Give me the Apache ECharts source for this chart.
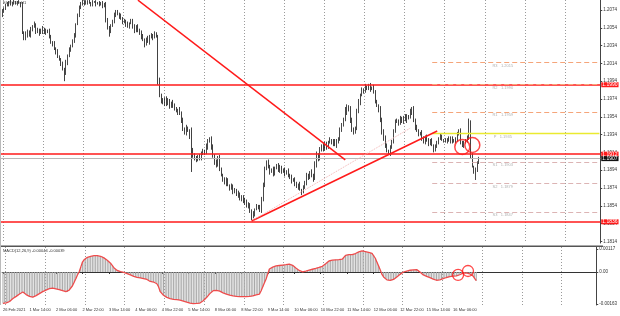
<!DOCTYPE html>
<html><head><meta charset="utf-8">
<script src="https://cdn.jsdelivr.net/npm/echarts@6/dist/echarts.min.js"></script>
<style>html,body{margin:0;padding:0;background:#fff}#c{width:620px;height:316px}</style>
</head><body><div id="c"></div><script>
// ---- data ----
const SLOTS = 359; // hourly slots shown on the x axis (incl. empty right shift)
const TICK_LABELS = ["26 Feb 2021","1 Mar 14:00","2 Mar 06:00","2 Mar 22:00","3 Mar 14:00","4 Mar 06:00","4 Mar 22:00","5 Mar 14:00","8 Mar 06:00","8 Mar 22:00","9 Mar 14:00","10 Mar 06:00","10 Mar 22:00","11 Mar 14:00","12 Mar 06:00","12 Mar 22:00","15 Mar 14:00","16 Mar 06:00"];
const PRICE_TICKS = [1.2074,1.2054,1.2034,1.2014,1.1994,1.1974,1.1954,1.1934,1.1914,1.1894,1.1874,1.1854,1.1834,1.1814];
// prices in pips above 1.1800
const FIRST_OPEN = 265;
const CLOSE = [
268,272,276,279,281,283,280,282,284,281,
283,282,280,248,242,247,250,246,252,255,
258,250,252,248,251,253,249,251,250,244,
238,236,230,227,222,218,214,208,203,215,
222,229,234,238,246,258,268,276,282,284,
281,283,285,282,280,283,284,281,283,280,
282,279,281,262,255,250,256,262,268,272,
270,267,264,260,262,258,256,259,262,255,
250,256,252,248,245,240,236,242,238,244,
246,243,247,245,195,178,172,170,175,168,
172,166,170,167,163,160,162,158,150,140,
136,142,138,133,118,110,108,105,110,107,
112,116,114,120,126,130,120,110,104,100,
108,96,88,84,80,83,77,74,76,70,
72,66,68,62,64,58,60,54,56,48,
42,45,50,54,52,48,60,78,95,103,
98,92,95,90,96,100,94,97,92,95,
90,93,88,86,82,84,79,76,78,72,
70,74,80,88,85,92,88,84,100,110,
106,118,122,117,124,120,126,128,124,127,
122,126,130,138,145,150,160,165,162,150,
140,136,142,160,170,178,184,182,188,186,
189,185,187,182,172,166,162,150,138,130,
122,116,113,120,125,138,148,150,147,152,
149,154,150,155,153,160,164,150,142,138,
134,136,130,126,132,127,124,128,122,118,
121,124,130,132,128,128,126,129,127,130,
126,128,127,135,137,126,122,125,128,130,
148,110,98,92,95,103,107];
// upper / lower shadow lengths in pips (one digit per candle)
const UP = ["2312213120","1213232132","3121231213","2132312213","2313212312","1201120101","1212312132","2132213122","3121322132","2132132312","3213221323","2312913212","3214312322","2312232132","2131223121","2312134232","3213212321","2132312213","1323213245","3213221312","2314235324","3213423231","2313212432","3212323213","2132131223","2132123121","2313212132","2132341213","4231212"].join("");
const DN = ["3212131221","2131224232","1323142322","2313213292","3122131213","2131221312","1322362132","2312132312","2132414213","2312523242","1323214232","2314023212","2132313243","2313241323","2132313232","4231212131","2313212321","3122313241","4213212313","2132132213","1323121423","3213231212","2312313243","3213212132","2313214231","2132313214","3212131213","2131232313","2312932"].join("");
const BIG_LOW = {114: 92};
// MACD in units of 0.00001
const MACD = [
-160,-158,-157,-155,-150,-143,-135,-130,-124,-118,
-112,-106,-102,-108,-115,-120,-124,-127,-128,-124,
-120,-115,-110,-105,-100,-96,-92,-88,-85,-83,
-82,-84,-86,-88,-90,-93,-95,-97,-100,-102,
-92,-82,-70,-52,-34,-15,0,25,50,62,
70,75,78,80,82,83,83,83,82,80,
78,72,66,60,52,45,34,22,12,8,
5,2,0,-2,-5,-8,-11,-15,-18,-22,
-25,-27,-29,-30,-32,-34,-35,-38,-42,-48,
-50,-51,-52,-60,-75,-100,-110,-118,-125,-129,
-132,-135,-137,-139,-140,-141,-142,-143,-145,-148,
-150,-153,-156,-158,-160,-161,-160,-160,-159,-158,
-152,-146,-140,-130,-120,-110,-100,-95,-92,-93,
-95,-97,-102,-106,-110,-113,-116,-118,-120,-122,
-123,-124,-124,-125,-125,-125,-125,-125,-125,-124,
-124,-122,-118,-116,-114,-112,-95,-75,-55,-35,
-10,15,20,25,30,31,32,33,34,35,
36,37,38,40,38,34,28,20,14,8,
0,1,3,5,7,10,12,14,15,18,
20,23,26,29,35,42,52,56,58,60,
61,62,62,63,64,65,75,85,88,88,
88,88,90,94,98,102,105,107,106,104,
102,100,97,95,85,70,50,30,10,-12,
-25,-33,-40,-42,-43,-42,-38,-32,-25,-18,
-12,-5,0,3,5,7,9,10,11,12,
12,8,0,-10,-15,-19,-22,-26,-29,-32,
-36,-39,-42,-41,-40,-38,-34,-31,-28,-26,
-24,-22,-21,-21,-20,-18,-14,-8,-6,-5,
-4,-6,-9,-12,-20,-32,-44];
const MACD_TICKS = [0.00117, 0, -0.00163];
const LEVELS = [1.1990, 1.1912, 1.1836];
const BID = 1.1907;
const PIVOT_NAMES = ["R3","R2","R1","P","S1","S2","S3"];
const PIVOT_VALUES = [1.2015, 1.1990, 1.1959, 1.1935, 1.1903, 1.1879, 1.1847];
const PIVOT_RANGE = [258, 358];
const TREND_DOWN = [[82, 1.2085], [206, 1.19055]];
const TREND_UP = [[150, 1.18369], [261, 1.1938]];
const TREND_FAINT = [[151, 1.1838], [245, 1.19414]];
const CIRCLES_PRICE = [[276, 1.19201], [282, 1.19223]];
const CIRCLES_MACD = [[275, -0.00015], [281, 0.00005]];
const TITLE = "EURUSD,H1";
const MACD_TITLE = "MACD(12,26,9) -0.00044 -0.00039";

// ---- build ----
const xData = Array.from({length: SLOTS}, (_, i) => String(i));
const candles = CLOSE.map((c, i) => {
  const o = i === 0 ? FIRST_OPEN : CLOSE[i - 1];
  const hi = Math.max(o, c) + Number(UP[i]);
  const lo = BIG_LOW[i] !== undefined ? BIG_LOW[i] : Math.min(o, c) - Number(DN[i]);
  return [o, c, lo, hi].map(p => +(1.18 + p / 10000).toFixed(5));
});
const macdVals = MACD.map(v => v / 100000);
const FONT = "Liberation Sans";
const gridSplit = (idx) => (idx - 2) % 24 === 0;
const tickShow = (idx) => idx % 16 === 0 && idx / 16 < TICK_LABELS.length;

const levelLines = LEVELS.map(v => ({
  yAxis: v,
  lineStyle: {color: '#ff1a1a', width: 1.5, type: 'solid'},
  label: {show: true, position: 'end', formatter: v.toFixed(4), color: '#fff', backgroundColor: '#ff1a1a',
    fontSize: 5, fontFamily: FONT, padding: [0, 1], distance: 1}
}));
levelLines.push({
  yAxis: BID,
  lineStyle: {color: '#b8b8b8', width: 1, type: 'solid'},
  label: {show: true, position: 'end', formatter: BID.toFixed(4), color: '#fff', backgroundColor: '#111',
    fontSize: 5, fontFamily: FONT, padding: [0, 1], distance: 1}
});
const pivotLines = PIVOT_VALUES.map((v, k) => {
  const upper = v > 1.1945, isP = PIVOT_NAMES[k] === 'P';
  return [{
    coord: [PIVOT_RANGE[0], v],
    lineStyle: {color: isP ? '#eaea30' : (upper ? '#f5a57a' : '#dcb4b4'), width: isP ? 1.3 : 1.2, type: isP ? 'solid' : [5, 3], opacity: 1},
    label: {show: true, position: 'insideMiddleBottom', formatter: PIVOT_NAMES[k] + '   ' + v.toFixed(4),
      color: '#b0b0b0', fontSize: 4, fontFamily: FONT, distance: 1, padding: [0, 26, 0, 0]}
  }, {coord: [PIVOT_RANGE[1], v]}];
});
const trendLines = [
  [{coord: TREND_DOWN[0], lineStyle: {color: '#ff1a1a', width: 1.5, type: 'solid'}}, {coord: TREND_DOWN[1]}],
  [{coord: TREND_UP[0], lineStyle: {color: '#ff1a1a', width: 1.5, type: 'solid'}}, {coord: TREND_UP[1]}],
  [{coord: TREND_FAINT[0], lineStyle: {color: '#f3b3b3', width: 1, type: 'dotted'}}, {coord: TREND_FAINT[1]}]
];

const chart = echarts.init(document.getElementById('c'), null, {renderer: 'canvas'});
chart.setOption({
  animation: false,
  backgroundColor: '#fff',
  textStyle: {fontFamily: FONT},
  grid: [
    {left: 0, top: 0, width: 603, height: 243},
    {left: 0, top: 247, width: 603, height: 58}
  ],
  xAxis: [
    {type: 'category', gridIndex: 0, data: xData, boundaryGap: true,
      axisLine: {show: false}, axisTick: {show: false}, axisLabel: {show: false},
      splitLine: {show: true, interval: gridSplit, lineStyle: {color: '#9a9a9a', type: [1, 2], width: 1}}},
    {type: 'category', gridIndex: 1, data: xData, boundaryGap: true,
      axisLine: {show: true, lineStyle: {color: '#333', width: 1}},
      axisTick: {show: true, interval: tickShow, alignWithLabel: true, length: 2, lineStyle: {color: '#333'}},
      axisLabel: {show: true, interval: tickShow, align: 'left', margin: 3, fontSize: 4, color: '#333', fontFamily: FONT,
        formatter: (v, idx) => TICK_LABELS[idx / 16] || ''},
      splitLine: {show: true, interval: gridSplit, lineStyle: {color: '#9a9a9a', type: [1, 2], width: 1}}}
  ],
  yAxis: [
    {type: 'value', gridIndex: 0, position: 'right', min: 1.18122, max: 1.20852, scale: true,
      axisLine: {show: true, lineStyle: {color: '#444', width: 1}},
      axisTick: {show: true, length: 2, customValues: PRICE_TICKS, lineStyle: {color: '#444'}},
      axisLabel: {show: true, customValues: PRICE_TICKS, margin: 3, fontSize: 4.5, color: '#333', fontFamily: FONT,
        formatter: v => v.toFixed(4)},
      splitLine: {show: false}},
    {type: 'value', gridIndex: 1, position: 'right', min: -0.001679, max: 0.001272,
      axisLine: {show: true, lineStyle: {color: '#444', width: 1}},
      axisTick: {show: true, length: 2, customValues: MACD_TICKS, lineStyle: {color: '#444'}},
      axisLabel: {show: true, customValues: MACD_TICKS, margin: 3, fontSize: 4.5, color: '#333', fontFamily: FONT,
        formatter: v => v === 0 ? '0.00' : v.toFixed(5)},
      splitLine: {show: false}}
  ],
  series: [
    {type: 'candlestick', xAxisIndex: 0, yAxisIndex: 0, data: candles, barWidth: 1.1, clip: true,
      itemStyle: {color: '#ffffff', color0: '#111111', borderColor: '#1a1a1a', borderColor0: '#111111', borderWidth: 0.8},
      markLine: {silent: true, symbol: ['none', 'none'], animation: false, precision: 5,
        data: levelLines.concat(pivotLines, trendLines)}},
    {type: 'scatter', xAxisIndex: 0, yAxisIndex: 0, data: CIRCLES_PRICE, symbol: 'circle', symbolSize: 15,
      itemStyle: {color: 'rgba(0,0,0,0)', borderColor: '#ff1a1a', borderWidth: 1.5}, z: 5},
    {type: 'bar', xAxisIndex: 1, yAxisIndex: 1, data: macdVals, barWidth: 0.8, itemStyle: {color: '#a8a8a8'}},
    {type: 'line', xAxisIndex: 1, yAxisIndex: 1, data: macdVals, symbol: 'none',
      lineStyle: {color: '#ee4c4c', width: 1.3}, z: 4},
    {type: 'scatter', xAxisIndex: 1, yAxisIndex: 1, data: CIRCLES_MACD, symbol: 'circle', symbolSize: 11,
      itemStyle: {color: 'rgba(0,0,0,0)', borderColor: '#ff1a1a', borderWidth: 1.3}, z: 5}
  ],
  graphic: [
    {type: 'rect', shape: {x: 0, y: 244, width: 603, height: 3}, style: {fill: '#fff'}, z: 50},
    {type: 'rect', shape: {x: 0, y: 245.5, width: 603, height: 1.5}, style: {fill: '#555'}, z: 51},
    {type: 'rect', shape: {x: 0, y: 0, width: 1, height: 305}, style: {fill: '#bbb'}, z: 51},
    {type: 'text', left: 3, top: 1, style: {text: TITLE, fontSize: 4, fill: '#444', fontFamily: FONT}, z: 52},
    {type: 'text', left: 3, top: 249, style: {text: MACD_TITLE, fontSize: 4, fill: '#333', fontFamily: FONT}, z: 52}
  ]
});
</script></body></html>
